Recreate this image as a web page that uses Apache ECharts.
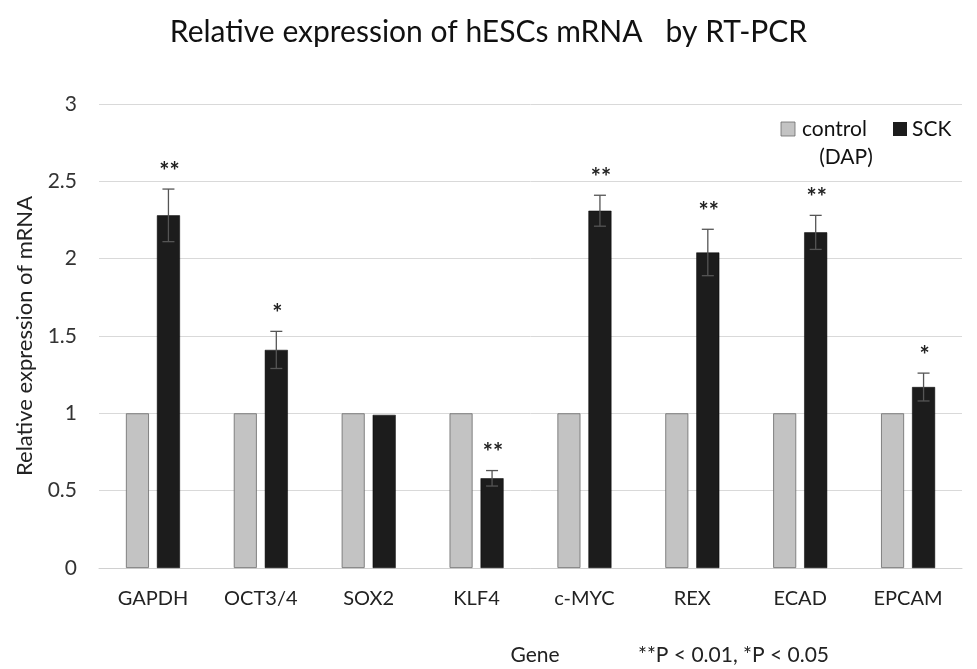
<!DOCTYPE html>
<html><head><meta charset="utf-8">
<script src="https://cdn.jsdelivr.net/npm/echarts@6/dist/echarts.min.js"></script>
<style>html,body{margin:0;padding:0;background:#fff}#c{width:977px;height:669px}</style>
</head><body><div id="c"></div>
<script>
const genes = ['GAPDH','OCT3/4','SOX2','KLF4','c-MYC','REX','ECAD','EPCAM'];
const control = [1,1,1,1,1,1,1,1];
const sck = [2.28,1.41,0.99,0.58,2.31,2.04,2.17,1.17];
const sckErr = [0.17,0.12,0,0.05,0.1,0.15,0.11,0.09];
const signif = ['**','*','','**','**','**','**','*'];
const seriesNames = ['control', 'SCK'];

const BAR_W = 23, GAP = 8;
const FONT = 'Lato, "Liberation Sans", sans-serif';
const GREY = '#c3c3c3', BLACK = '#1c1c1c';
const chart = echarts.init(document.getElementById('c'));
const errData = genes.map((g,i)=>[i, sck[i]-sckErr[i], sck[i]+sckErr[i], sckErr[i]]);

chart.setOption({
  animation:false,
  title:{text:'Relative expression of hESCs mRNA   by RT-PCR', left:'center', top:12,
    textStyle:{fontFamily:FONT, fontSize:30, fontWeight:'normal', color:'#111'}},
  grid:{left:99, right:15, top:104, bottom:101},
  xAxis:{type:'category', data:genes, axisTick:{show:false},
    axisLine:{lineStyle:{color:'#d0d0d0'}},
    axisLabel:{fontFamily:FONT, fontSize:20, color:'#222', margin:21}},
  yAxis:{type:'value', min:0, max:3, interval:0.5,
    axisLabel:{fontFamily:FONT, fontSize:21, color:'#333', margin:22, formatter:v=>String(v)},
    splitLine:{lineStyle:{color:'#d9d9d9'}},
    name:'Relative expression of mRNA', nameLocation:'middle', nameGap:63, nameRotate:90,
    nameTextStyle:{fontFamily:FONT, fontSize:22, color:'#222'}},
  graphic:[
    {type:'text', x:535, y:655, style:{text:'Gene', font:'21px '+FONT, fill:'#222', align:'center', verticalAlign:'middle'}},
    {type:'text', x:638, y:655, style:{text:'**P < 0.01, *P < 0.05', font:'21px '+FONT, fill:'#222', align:'left', verticalAlign:'middle'}},
    {type:'rect', shape:{x:781, y:122, width:14, height:14}, style:{fill:GREY, stroke:'#6a6a6a', lineWidth:0.8}},
    {type:'text', x:802, y:129, style:{text:seriesNames[0], font:'21px '+FONT, fill:'#111', align:'left', verticalAlign:'middle'}},
    {type:'text', x:846, y:157, style:{text:'(DAP)', font:'21px '+FONT, fill:'#111', align:'center', verticalAlign:'middle'}},
    {type:'rect', shape:{x:893, y:122, width:14, height:14}, style:{fill:BLACK}},
    {type:'text', x:912, y:129, style:{text:seriesNames[1], font:'21px '+FONT, fill:'#111', align:'left', verticalAlign:'middle'}}
  ],
  series:[
    {name:seriesNames[0], type:'bar', data:control, barWidth:BAR_W, barGap:(GAP/BAR_W*100)+'%',
      itemStyle:{color:GREY, borderColor:'#6a6a6a', borderWidth:0.8}},
    {name:seriesNames[1], type:'bar', data:sck, barWidth:BAR_W,
      itemStyle:{color:BLACK, borderColor:'#000', borderWidth:0.5}},
    {type:'custom', name:'err', data:errData, z:10, silent:true,
      renderItem:function(params, api){
        const i = api.value(0);
        const off = (BAR_W+GAP)/2;
        const lo = api.coord([i, api.value(1)]);
        const hi = api.coord([i, api.value(2)]);
        const x = lo[0]+off;
        const children = [];
        const style = {stroke:'#555', lineWidth:1.3};
        if (api.value(3) > 0) {
          children.push({type:'line', shape:{x1:x,y1:lo[1],x2:x,y2:hi[1]}, style});
          children.push({type:'line', shape:{x1:x-6,y1:hi[1],x2:x+6,y2:hi[1]}, style});
          children.push({type:'line', shape:{x1:x-6,y1:lo[1],x2:x+6,y2:lo[1]}, style});
        }
        const s = signif[i];
        if (s) children.push({type:'text', x:x+1, y:hi[1]-5, style:{text:s, font:'bold 24px '+FONT, fill:'#222', align:'center', verticalAlign:'bottom'}});
        return {type:'group', children};
      }}
  ]
});
</script></body></html>
